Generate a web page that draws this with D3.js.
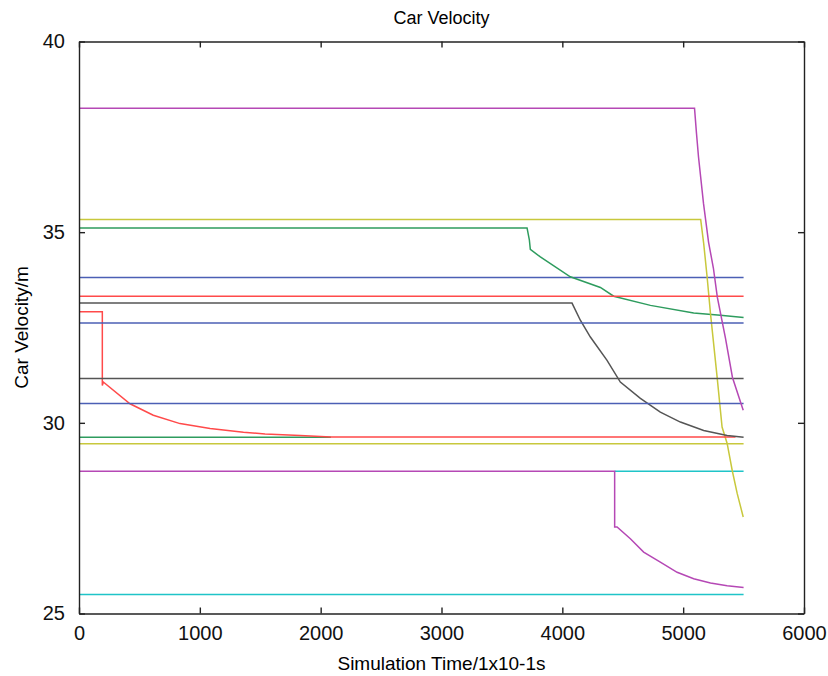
<!DOCTYPE html>
<meta charset="utf-8">
<style>
body { margin: 0; background: #fff; }
svg { font-family: "Liberation Sans", Arial, sans-serif; }
.axis text { font-size: 20px; fill: #111; }
.axis line, .axis path { stroke: #222; stroke-width: 1.4px; fill: none; }
.car { fill: none; stroke-width: 1.5px; }
</style>
<body>
<div id="chart"></div>
<script src="https://cdn.jsdelivr.net/npm/d3@7"></script>
<script>
// tick values
var xTicks = [0, 1000, 2000, 3000, 4000, 5000, 6000];
var yTicks = [25, 30, 35, 40];

// car velocity traces, [time, velocity]
var blue1 = [[0, 33.81], [5500, 33.81]];
var green1 = [[0, 35.11], [3708, 35.11], [3727, 34.80], [3735, 34.55], [3818, 34.35], [4066, 33.83], [4315, 33.55],
  [4425, 33.32], [4729, 33.08], [5087, 32.88], [5308, 32.82], [5500, 32.76]];
var red1 = [[0, 33.32], [5500, 33.32]];
var cyan1 = [[4433, 28.73], [5500, 28.73]];
var magenta1 = [[0, 38.25], [5094, 38.25], [5110, 37.60], [5127, 36.97], [5168, 35.76], [5210, 34.74], [5250, 34.06],
  [5283, 33.29], [5350, 32.22], [5408, 31.19], [5497, 30.33]];
var yellow1 = [[0, 35.33], [5145, 35.33], [5170, 34.70], [5198, 33.83], [5226, 32.87], [5281, 31.20], [5322, 29.89],
  [5364, 29.46], [5406, 28.75], [5447, 28.15], [5497, 27.53]];
var black1 = [[0, 33.14], [4080, 33.14], [4149, 32.69], [4232, 32.25], [4370, 31.64], [4480, 31.07], [4646, 30.64],
  [4811, 30.28], [4977, 30.02], [5170, 29.80], [5364, 29.67], [5500, 29.62]];
var blue2 = [[0, 32.62], [5500, 32.62]];
var green2 = [[0, 29.62], [2085, 29.62]];
var red2 = [[0, 32.91], [193, 32.91], [193, 30.98], [201, 31.07], [422, 30.50], [615, 30.20], [836, 29.98],
  [1085, 29.85], [1361, 29.75], [1540, 29.71], [1830, 29.67], [2084, 29.63], [5433, 29.63]];
var cyan2 = [[0, 25.50], [5500, 25.50]];
var magenta2 = [[0, 28.73], [4433, 28.73], [4433, 27.27], [4453, 27.27], [4563, 26.96], [4673, 26.61], [4811, 26.35],
  [4950, 26.08], [5087, 25.91], [5226, 25.80], [5364, 25.73], [5500, 25.68]];
var yellow2 = [[0, 29.45], [5500, 29.45]];
var black2 = [[0, 31.16], [5500, 31.16]];
var blue3 = [[0, 30.51], [5500, 30.51]];

var cars = [blue1, green1, cyan1, yellow1, green2, red2, red1, black1, blue2, cyan2, magenta2, yellow2, black2, blue3, magenta1];
var carColors = ["#4b5fb5", "#2e9c5e", "#1fc4c8", "#c8c83c", "#2e9c5e", "#ff4a4a", "#ff4a4a", "#555555",
  "#4b5fb5", "#1fc4c8", "#b548b5", "#c8c83c", "#555555", "#4b5fb5", "#b548b5"];

var margin = {top: 41.5, right: 24, bottom: 62.5, left: 79},
    width = 828 - margin.left - margin.right,
    height = 676 - margin.top - margin.bottom;

var x = d3.scaleLinear().domain([0, 6000]).range([0, width]);
var y = d3.scaleLinear().domain([25, 40]).range([height, 0]);

var svg = d3.select("#chart").append("svg")
    .attr("width", 828)
    .attr("height", 676)
  .append("g")
    .attr("transform", "translate(" + margin.left + "," + margin.top + ")");

var line = d3.line()
    .x(function(d) { return x(d[0]); })
    .y(function(d) { return y(d[1]); });

svg.selectAll(".car")
    .data(cars)
  .enter().append("path")
    .attr("class", "car")
    .attr("stroke", function(d, i) { return carColors[i]; })
    .attr("d", line);

// box with inward ticks on all four sides
svg.append("g").attr("class", "axis")
    .attr("transform", "translate(0," + height + ")")
    .call(d3.axisBottom(x).tickValues(xTicks).tickFormat(d3.format("d"))
      .tickSizeInner(-6).tickSizeOuter(0).tickPadding(12));
svg.append("g").attr("class", "axis")
    .call(d3.axisTop(x).tickValues(xTicks).tickSizeInner(-6).tickSizeOuter(0).tickFormat(""));
svg.append("g").attr("class", "axis")
    .call(d3.axisLeft(y).tickValues(yTicks).tickFormat(d3.format("d"))
      .tickSizeInner(-6).tickSizeOuter(0).tickPadding(14));
svg.append("g").attr("class", "axis")
    .attr("transform", "translate(" + width + ",0)")
    .call(d3.axisRight(y).tickValues(yTicks).tickSizeInner(-6).tickSizeOuter(0).tickFormat(""));

svg.append("text")
    .attr("x", width / 2)
    .attr("y", -18)
    .attr("text-anchor", "middle")
    .style("font-size", "18px")
    .text("Car Velocity");

svg.append("text")
    .attr("x", width / 2)
    .attr("y", height + 56)
    .attr("text-anchor", "middle")
    .style("font-size", "19px")
    .text("Simulation Time/1x10-1s");

svg.append("text")
    .attr("transform", "translate(-51," + (height / 2) + ") rotate(-90)")
    .attr("text-anchor", "middle")
    .style("font-size", "19px")
    .text("Car Velocity/m");
</script>
</body>
